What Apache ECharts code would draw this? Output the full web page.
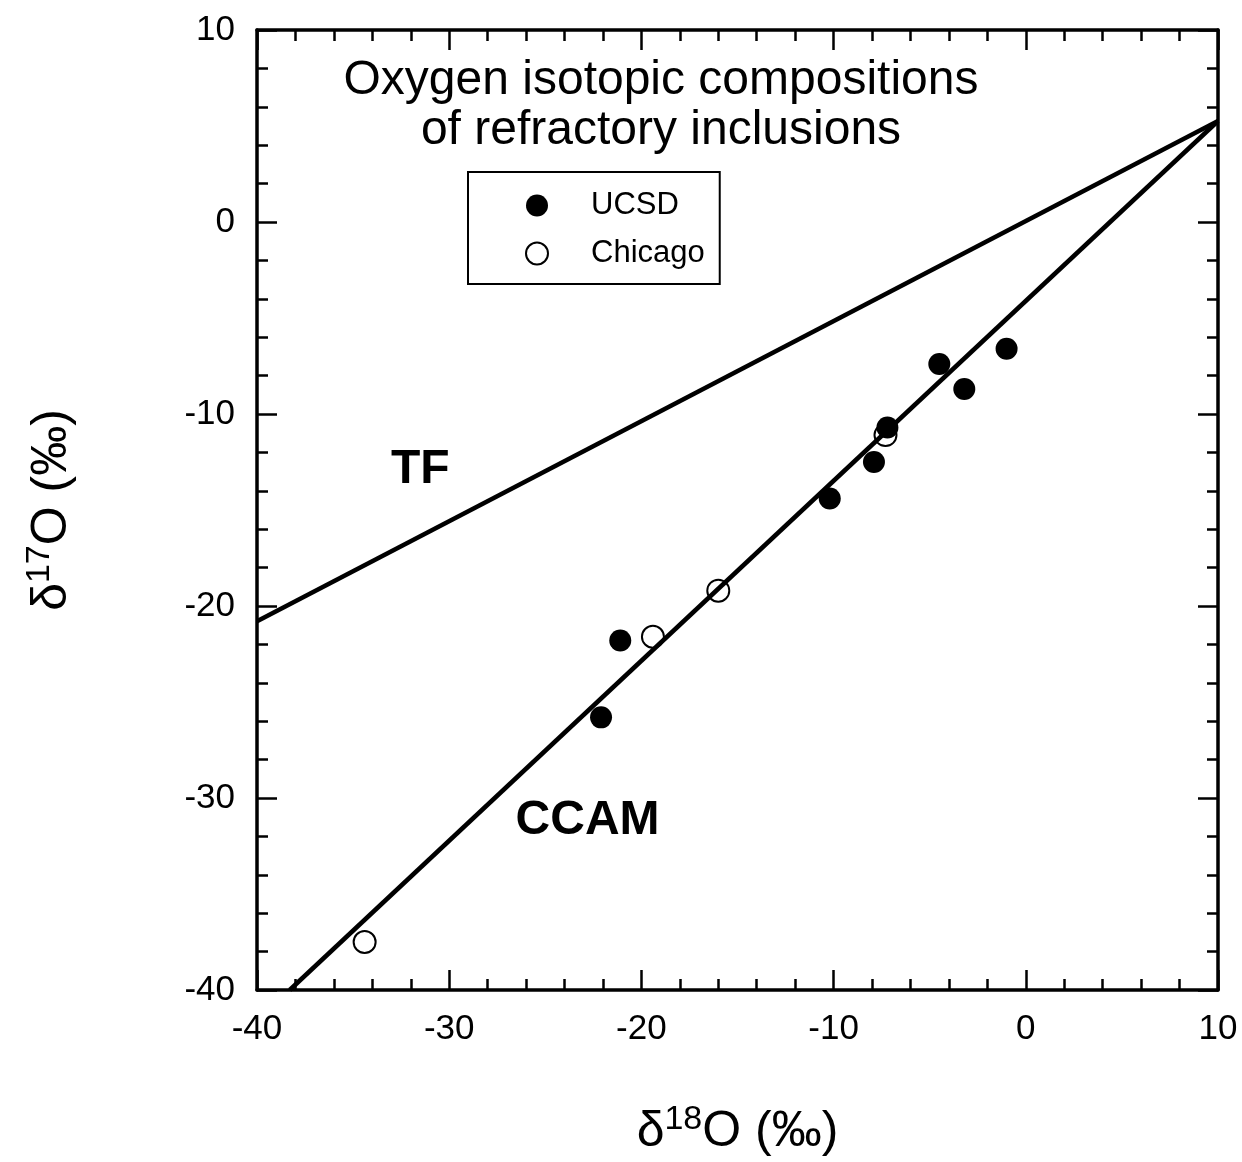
<!DOCTYPE html>
<html>
<head>
<meta charset="utf-8">
<script src="https://cdn.jsdelivr.net/npm/echarts@6/dist/echarts.min.js"></script>
<style>
	html, body { margin: 0; padding: 0; background: #fff; }
	#chart { width: 1242px; height: 1162px; }
</style>
</head>
<body>
<div id="chart"></div>
<script>
// data (per mil)
var ucsdX = [-1.0, -4.5, -3.2, -7.2, -7.9, -10.2, -21.1, -22.1];
var ucsdY = [-6.6, -7.4, -8.7, -10.7, -12.5, -14.4, -21.8, -25.8];
var chicagoX = [-7.3, -16.0, -19.4, -34.4];
var chicagoY = [-11.1, -19.2, -21.6, -37.5];
// end points of the two reference lines
var tfX = [-40, 10];
var tfY = [-20.8, 5.26];
var ccamX = [-38.3, 10];
var ccamY = [-40, 5.26];
// label anchors
var tfLabel = [-31.5, -12.9];
var ccamLabel = [-22.8, -31.2];

var FONT = "Liberation Sans, Arial, Helvetica, sans-serif";

function pairs(xs, ys) {
	var out = [];
	for (var i = 0; i < xs.length; i++) out.push([xs[i], ys[i]]);
	return out;
}

function axisCommon(showLabel) {
	return {
		min: -40,
		max: 10,
		interval: 10,
		axisLine: { show: true, onZero: false, lineStyle: { color: '#000', width: 3.5 } },
		axisTick: { show: true, inside: true, length: 20, lineStyle: { color: '#000', width: 2.5 } },
		minorTick: { show: true, splitNumber: 5, length: 11, lineStyle: { color: '#000', width: 2.5 } },
		splitLine: { show: false },
		axisLabel: {
			show: showLabel,
			color: '#000',
			fontFamily: FONT,
			fontSize: 35,
			margin: 22
		}
	};
}

function initChart() {
	var nameStyle = {
		rich: {
			d: { fontSize: 50, fontFamily: FONT, color: '#000', verticalAlign: 'bottom', lineHeight: 54 },
			s: { fontSize: 34, fontFamily: FONT, color: '#000', verticalAlign: 'top', lineHeight: 54, padding: [0, 0, 18, 0] }
		}
	};

	var xBottom = axisCommon(true);
	xBottom.type = 'value';
	xBottom.position = 'bottom';
	xBottom.name = '{d|\u03b4}{s|18}{d|O (\u2030)}';
	xBottom.nameLocation = 'middle';
	xBottom.nameGap = 113;
	xBottom.nameTextStyle = nameStyle;
	var xTop = axisCommon(false);
	xTop.type = 'value';
	xTop.position = 'top';

	var yLeft = axisCommon(true);
	yLeft.type = 'value';
	yLeft.position = 'left';
	yLeft.name = '{d|\u03b4}{s|17}{d|O (\u2030)}';
	yLeft.nameLocation = 'middle';
	yLeft.nameRotate = 90;
	yLeft.nameGap = 180;
	yLeft.nameTextStyle = nameStyle;
	var yRight = axisCommon(false);
	yRight.type = 'value';
	yRight.position = 'right';

	var option = {
		backgroundColor: '#fff',
		animation: false,
		title: {
			text: 'Oxygen isotopic compositions\nof refractory inclusions',
			left: 656,
			top: 51,
			textAlign: 'center',
			textStyle: {
				color: '#000',
				fontFamily: FONT,
				fontSize: 48,
				fontWeight: 'normal',
				lineHeight: 50
			}
		},
		legend: {
			orient: 'vertical',
			left: 468,
			top: 172,
			padding: [18, 15, 15, 57],
			itemGap: 17,
			itemWidth: 22,
			itemHeight: 22,
			borderColor: '#000',
			borderWidth: 2,
			borderRadius: 0,
			data: ['UCSD', 'Chicago'],
			textStyle: {
				color: '#000',
				fontFamily: FONT,
				fontSize: 31,
				padding: [0, 0, 0, 38]
			}
		},
		grid: {
			left: 257,
			right: 24,
			top: 30,
			bottom: 172,
			containLabel: false
		},
		xAxis: [xBottom, xTop],
		yAxis: [yLeft, yRight],
		series: [
			{
				name: 'TF',
				type: 'line',
				data: pairs(tfX, tfY),
				showSymbol: false,
				lineStyle: { color: '#000', width: 4.5 },
				z: 2,
				markPoint: {
					symbolSize: 0,
					data: [{ coord: tfLabel, value: 'TF' }],
					label: {
						show: true,
						position: 'inside',
						formatter: 'TF',
						color: '#000',
						fontFamily: FONT,
						fontWeight: 'bold',
						fontSize: 48
					}
				}
			},
			{
				name: 'CCAM',
				type: 'line',
				data: pairs(ccamX, ccamY),
				showSymbol: false,
				lineStyle: { color: '#000', width: 4.5 },
				z: 2,
				markPoint: {
					symbolSize: 0,
					data: [{ coord: ccamLabel, value: 'CCAM' }],
					label: {
						show: true,
						position: 'inside',
						formatter: 'CCAM',
						color: '#000',
						fontFamily: FONT,
						fontWeight: 'bold',
						fontSize: 48
					}
				}
			},
			{
				name: 'Chicago',
				type: 'scatter',
				data: pairs(chicagoX, chicagoY),
				symbol: 'circle',
				symbolSize: 22,
				itemStyle: { color: 'rgba(255,255,255,0)', borderColor: '#000', borderWidth: 2, opacity: 1 },
				z: 3
			},
			{
				name: 'UCSD',
				type: 'scatter',
				data: pairs(ucsdX, ucsdY),
				symbol: 'circle',
				symbolSize: 22,
				itemStyle: { color: '#000', opacity: 1 },
				z: 4
			}
		]
	};

	var myChart = echarts.init(document.getElementById('chart'), null, { renderer: 'canvas' });
	myChart.setOption(option);
	window.myChart = myChart;
}

initChart();
</script>
</body>
</html>
